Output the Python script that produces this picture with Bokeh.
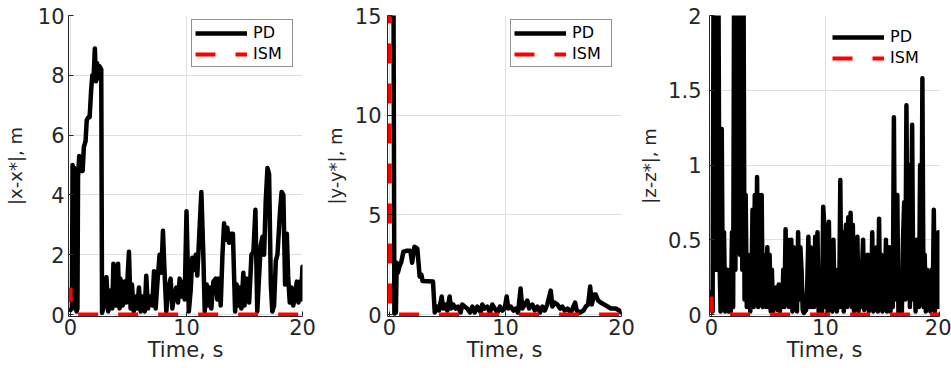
from bokeh.plotting import figure
from bokeh.models import Range1d, FixedTicker, Legend, LegendItem
from bokeh.layouts import row
from bokeh.embed import file_html
from bokeh.resources import INLINE
import numpy as np

# ---------------- data ----------------
x_ticks = [0, 10, 20]

# Panel 1: |x - x*|
t1 = [0.0, 0.12, 0.18, 0.25, 0.32, 0.4, 0.45, 0.52, 0.6, 0.65, 0.75, 0.85, 0.95, 1.05, 1.15, 1.3, 1.4,
      1.55, 1.65, 1.78, 1.88, 2.0, 2.1, 2.2, 2.3, 2.4, 2.5, 2.65, 2.72, 2.9, 3.1, 3.25,
      3.45, 3.6, 3.7, 3.9, 4.1, 4.23, 4.3, 4.5, 4.65, 4.8, 5.04, 5.18, 5.3, 5.45, 5.55,
      5.75, 5.9, 6.05, 6.2, 6.4, 6.53, 6.68, 6.85, 7.05, 7.2, 7.34, 7.48, 7.68, 7.83, 7.97,
      8.1, 8.26, 8.4, 8.63, 8.78, 8.92, 9.12, 9.27, 9.41, 9.55, 9.7, 9.84, 10.0, 10.2, 10.36,
      10.5, 10.65, 10.8, 10.93, 11.08, 11.28, 11.45, 11.57, 11.74, 11.86, 12.03, 12.14, 12.32, 12.52, 12.66,
      12.8, 12.95, 13.1, 13.24, 13.38, 13.52, 13.67, 13.81, 14.0, 14.19, 14.33, 14.47, 14.6, 14.73, 14.9,
      15.0, 15.2, 15.4, 15.6, 15.77, 15.94, 16.1, 16.26, 16.4, 16.55, 16.69, 16.83, 16.98, 17.12, 17.27,
      17.4, 17.55, 17.7, 17.84, 18.07, 18.2, 18.35, 18.5, 18.65, 18.76, 18.9, 19.05, 19.2, 19.34, 19.51,
      19.65, 19.77, 19.86, 20.0]
pd1 = [0.15, 0.2, 5.0, 0.3, 4.9, 0.2, 4.7, 0.1, 0.2, 4.6, 5.3, 4.8, 4.8, 4.8, 5.6, 5.8, 6.5,
       6.6, 6.6, 7.5, 8.0, 8.0, 8.9, 7.8, 8.4, 7.9, 8.3, 8.2, 0.05, 0.3, 1.25, 0.1,
       0.8, 0.2, 1.7, 0.3, 1.7, 0.2, 1.2, 0.3, 1.1, 0.4, 2.1, 0.2, 1.0, 0.1, 0.6,
       0.2, 0.9, 0.1, 0.6, 0.1, 1.3, 0.2, 0.6, 0.3, 1.45, 0.2, 1.0, 2.0, 1.4, 2.8,
       1.5, 0.1, 0.8, 1.2, 0.2, 0.6, 0.9, 0.4, 1.2, 0.6, 1.1, 0.5, 3.45, 0.1, 0.8,
       1.9, 1.5, 2.0, 1.3, 2.5, 4.1, 2.0, 0.1, 1.0, 0.3, 0.9, 0.2, 1.1, 1.2, 0.5,
       1.2, 0.3, 2.0, 3.05, 2.5, 2.9, 2.4, 2.7, 2.7, 0.1, 1.0, 0.3, 0.9, 0.2, 1.4,
       0.3, 1.2, 0.4, 2.0, 2.1, 3.5, 0.1, 1.3, 2.3, 2.6, 2.0, 3.8, 4.9, 4.7, 1.0,
       0.1, 0.3, 1.8, 2.0, 3.5, 4.1, 4.0, 1.0, 2.7, 1.3, 0.4, 0.9, 0.3, 0.6, 1.1,
       0.4, 1.1, 0.5, 1.6]
ism1_t = [0.0, 0.05, 20.0]
ism1 = [0.9, 0.0, 0.0]

# Panel 2: |y - y*|
t2 = [0.0, 0.35, 0.42, 0.55, 0.62, 0.72, 0.85, 1.0, 1.2, 1.5, 1.8, 1.95, 2.15, 2.4, 2.6,
      2.75, 2.85, 3.75, 3.9, 4.1, 4.26, 4.5, 4.63, 4.83, 4.98, 5.18, 5.32, 5.5, 5.7, 5.9,
      6.13, 6.27, 6.47, 6.7, 6.94, 7.14, 7.34, 7.57, 7.86, 8.0, 8.2, 8.43, 8.66, 8.86, 9.07,
      9.3, 9.52, 9.73, 9.93, 10.1, 10.24, 10.45, 10.68, 10.88, 11.08, 11.3, 11.45, 11.65, 11.88, 12.03,
      12.32, 12.52, 12.75, 12.98, 13.18, 13.38, 13.6, 13.9, 14.04, 14.24, 14.47, 14.7, 14.9, 15.1, 15.34,
      15.63, 16.0, 16.14, 16.43, 16.72, 16.92, 17.12, 17.3, 17.44, 17.64, 17.78, 17.99, 18.2, 18.5, 18.8,
      19.08, 19.5, 19.8, 20.0]
pd2 = [15.0, 15.0, 0.05, 0.1, 2.6, 2.1, 2.4, 2.6, 3.15, 3.2, 3.2, 2.6, 3.4, 3.3, 1.9,
       2.0, 1.68, 1.65, 0.1, 0.4, 0.2, 0.9, 0.3, 0.5, 0.2, 0.9, 0.3, 0.5, 0.3, 0.4,
       0.1, 0.5, 0.4, 0.3, 0.1, 0.4, 0.1, 0.4, 0.1, 0.5, 0.3, 0.4, 0.1, 0.5, 0.3,
       0.1, 0.4, 0.2, 0.3, 0.9, 0.3, 0.4, 0.2, 0.3, 0.1, 1.3, 0.3, 0.5, 0.7, 0.3,
       0.5, 0.2, 0.4, 0.1, 0.4, 0.2, 0.5, 1.2, 0.4, 0.6, 0.5, 0.3, 0.4, 0.2, 0.3,
       0.1, 0.6, 0.2, 0.1, 0.2, 0.4, 0.5, 1.4, 0.5, 1.0, 1.0, 0.7, 0.6, 0.5, 0.4,
       0.3, 0.3, 0.2, 0.1]
ism2_t = [0.0, 0.05, 20.0]
ism2 = [15.0, 0.0, 0.0]

# Panel 3: |z - z*|  (sampled every 0.1 s)
pd3 = [0.15, 0.02, 2.6, 2.8, 0.3, 2.7, 2.5, 0.4, 0.02, 1.24,
       0.05, 0.55, 0.02, 0.1, 0.3, 0.02, 0.28, 0.02, 0.55, 0.05,
       2.6, 0.3, 2.9, 0.5, 3.0, 0.4, 2.8, 0.3, 2.5, 0.1,
       0.8, 0.05, 0.4, 0.35, 0.02, 0.15, 0.7, 0.05, 0.8, 0.1,
       0.92, 0.05, 0.8, 0.1, 0.8, 0.05, 0.1, 0.4, 0.05, 0.45,
       0.05, 0.4, 0.02, 0.3, 0.02, 0.18, 0.05, 0.18, 0.03, 0.2,
       0.02, 0.15, 0.05, 0.3, 0.05, 0.57, 0.1, 0.5, 0.05, 0.35,
       0.5, 0.02, 0.45, 0.05, 0.2, 0.02, 0.55, 0.1, 0.45, 0.3,
       0.03, 0.01, 0.02, 0.03, 0.2, 0.52, 0.05, 0.45, 0.05, 0.3,
       0.05, 0.52, 0.1, 0.55, 0.02, 0.0, 0.0, 0.02, 0.72, 0.6,
       0.05, 0.5, 0.02, 0.62, 0.05, 0.3, 0.02, 0.5, 0.05, 0.3,
       0.02, 0.2, 0.05, 0.9, 0.05, 0.55, 0.02, 0.4, 0.6, 0.05,
       0.65, 0.1, 0.68, 0.05, 0.6, 0.02, 0.3, 0.05, 0.52, 0.02,
       0.3, 0.05, 0.3, 0.5, 0.03, 0.2, 0.05, 0.4, 0.02, 0.3,
       0.05, 0.55, 0.02, 0.2, 0.05, 0.45, 0.02, 0.64, 0.05, 0.4,
       0.02, 0.3, 0.05, 0.5, 0.02, 0.3, 0.45, 0.02, 0.3, 0.05,
       1.32, 0.1, 0.8, 0.8, 0.0, 0.0, 0.0, 0.02, 0.5, 0.75,
       0.1, 1.4, 0.2, 1.0, 0.05, 0.5, 1.27, 0.1, 0.3, 0.02,
       0.5, 0.2, 0.05, 1.0, 0.1, 1.58, 0.05, 0.4, 0.02, 0.3,
       0.05, 0.2, 0.02, 0.3, 0.05, 0.7, 0.02, 0.2, 0.05, 0.55,
       0.05]
t3 = list(np.linspace(0.0, 20.0, len(pd3)))
ism3_t = [0.0, 0.05, 20.0]
ism3 = [0.12, 0.0, 0.0]

# ---------------- styling ----------------
FONT = "DejaVu Sans"
AX = "#262626"
GRID = "#e0e0e0"
PAD_PX = 2          # the axes sit 2 px outside the data origin, so thick lines at 0 are not cut
FRAME_W = 234
FRAME_H = 301


def make_panel(width, left, right, ylabel, ymax, yticks, overrides,
               t, pd, it, ism, dash_offset, ytick_standoff, ylabel_standoff, legend_box):
    x0 = -20.0 * PAD_PX / (FRAME_W - PAD_PX)
    y0 = -ymax * PAD_PX / (FRAME_H - PAD_PX)
    p = figure(width=width, height=368, output_backend="svg", toolbar_location=None,
               x_range=Range1d(x0, 20), y_range=Range1d(y0, ymax),
               min_border_left=left, min_border_right=right,
               min_border_top=15, min_border_bottom=52)
    p.outline_line_color = None
    p.background_fill_color = "white"
    p.border_fill_color = "white"

    p.xaxis.ticker = FixedTicker(ticks=x_ticks)
    p.yaxis.ticker = FixedTicker(ticks=yticks)
    if overrides:
        p.yaxis.major_label_overrides = overrides

    for ax in (p.xaxis[0], p.yaxis[0]):
        ax.axis_line_color = AX
        ax.axis_line_width = 1
        ax.major_tick_line_color = AX
        ax.major_tick_in = 5
        ax.major_tick_out = 0
        ax.minor_tick_line_color = None
        ax.major_label_text_font = FONT
        ax.major_label_text_font_size = "21px"
        ax.major_label_text_color = AX
        ax.axis_label_text_font = FONT
        ax.axis_label_text_font_style = "normal"
        ax.axis_label_text_color = AX

    p.xaxis.axis_label = "Time, s"
    p.xaxis.axis_label_text_font_size = "21px"
    p.xaxis.major_label_standoff = 2
    p.xaxis.axis_label_standoff = 0

    p.yaxis.axis_label = ylabel
    p.yaxis.axis_label_text_font_size = "18px"
    p.yaxis.major_label_standoff = ytick_standoff
    p.yaxis.axis_label_standoff = ylabel_standoff

    p.grid.grid_line_color = GRID
    p.grid.grid_line_width = 1

    p.line(t, pd, line_color="black", line_width=4.5, line_join="round", line_cap="round")
    p.line(it, ism, line_color="#ff0000", line_width=4, line_dash="20 20",
           line_dash_offset=dash_offset)

    # legend samples (no data drawn)
    lpd = p.line([np.nan, np.nan], [np.nan, np.nan], line_color="black", line_width=4.5)
    lism = p.line([np.nan, np.nan], [np.nan, np.nan], line_color="#ff0000", line_width=4,
                  line_dash="20 20")
    legend = Legend(items=[LegendItem(label="PD", renderers=[lpd]),
                           LegendItem(label="ISM", renderers=[lism])],
                    location=(123, 249),
                    label_text_font=FONT, label_text_font_size="16px",
                    label_text_color="black",
                    glyph_width=52, glyph_height=18, label_height=18, label_width=36,
                    label_standoff=6, padding=3, spacing=2, margin=0,
                    background_fill_color="white", background_fill_alpha=1.0)
    if legend_box:
        legend.border_line_color = AX
        legend.border_line_width = 1
    else:
        legend.border_line_color = None
    p.add_layout(legend)
    return p


p1 = make_panel(318, 68, 16, "|x-x*|, m", 10, [0, 2, 4, 6, 8, 10], None,
                t1, pd1, ism1_t, ism1, 6, 4, 9, True)
p2 = make_panel(318, 69, 15, "|y-y*|, m", 15, [0, 5, 10, 15], None,
                t2, pd2, ism2_t, ism2, 12, 6, 6, True)
p3 = make_panel(315, 69, 12, "|z-z*|, m", 2, [0, 0.5, 1, 1.5, 2],
                {0: "0", 0.5: "0.5", 1: "1", 1.5: "1.5", 2: "2"},
                t3, pd3, ism3_t, ism3, 4, 8, 5, False)

layout = row(p1, p2, p3)
open("out.html", "w").write(file_html(layout, INLINE))
